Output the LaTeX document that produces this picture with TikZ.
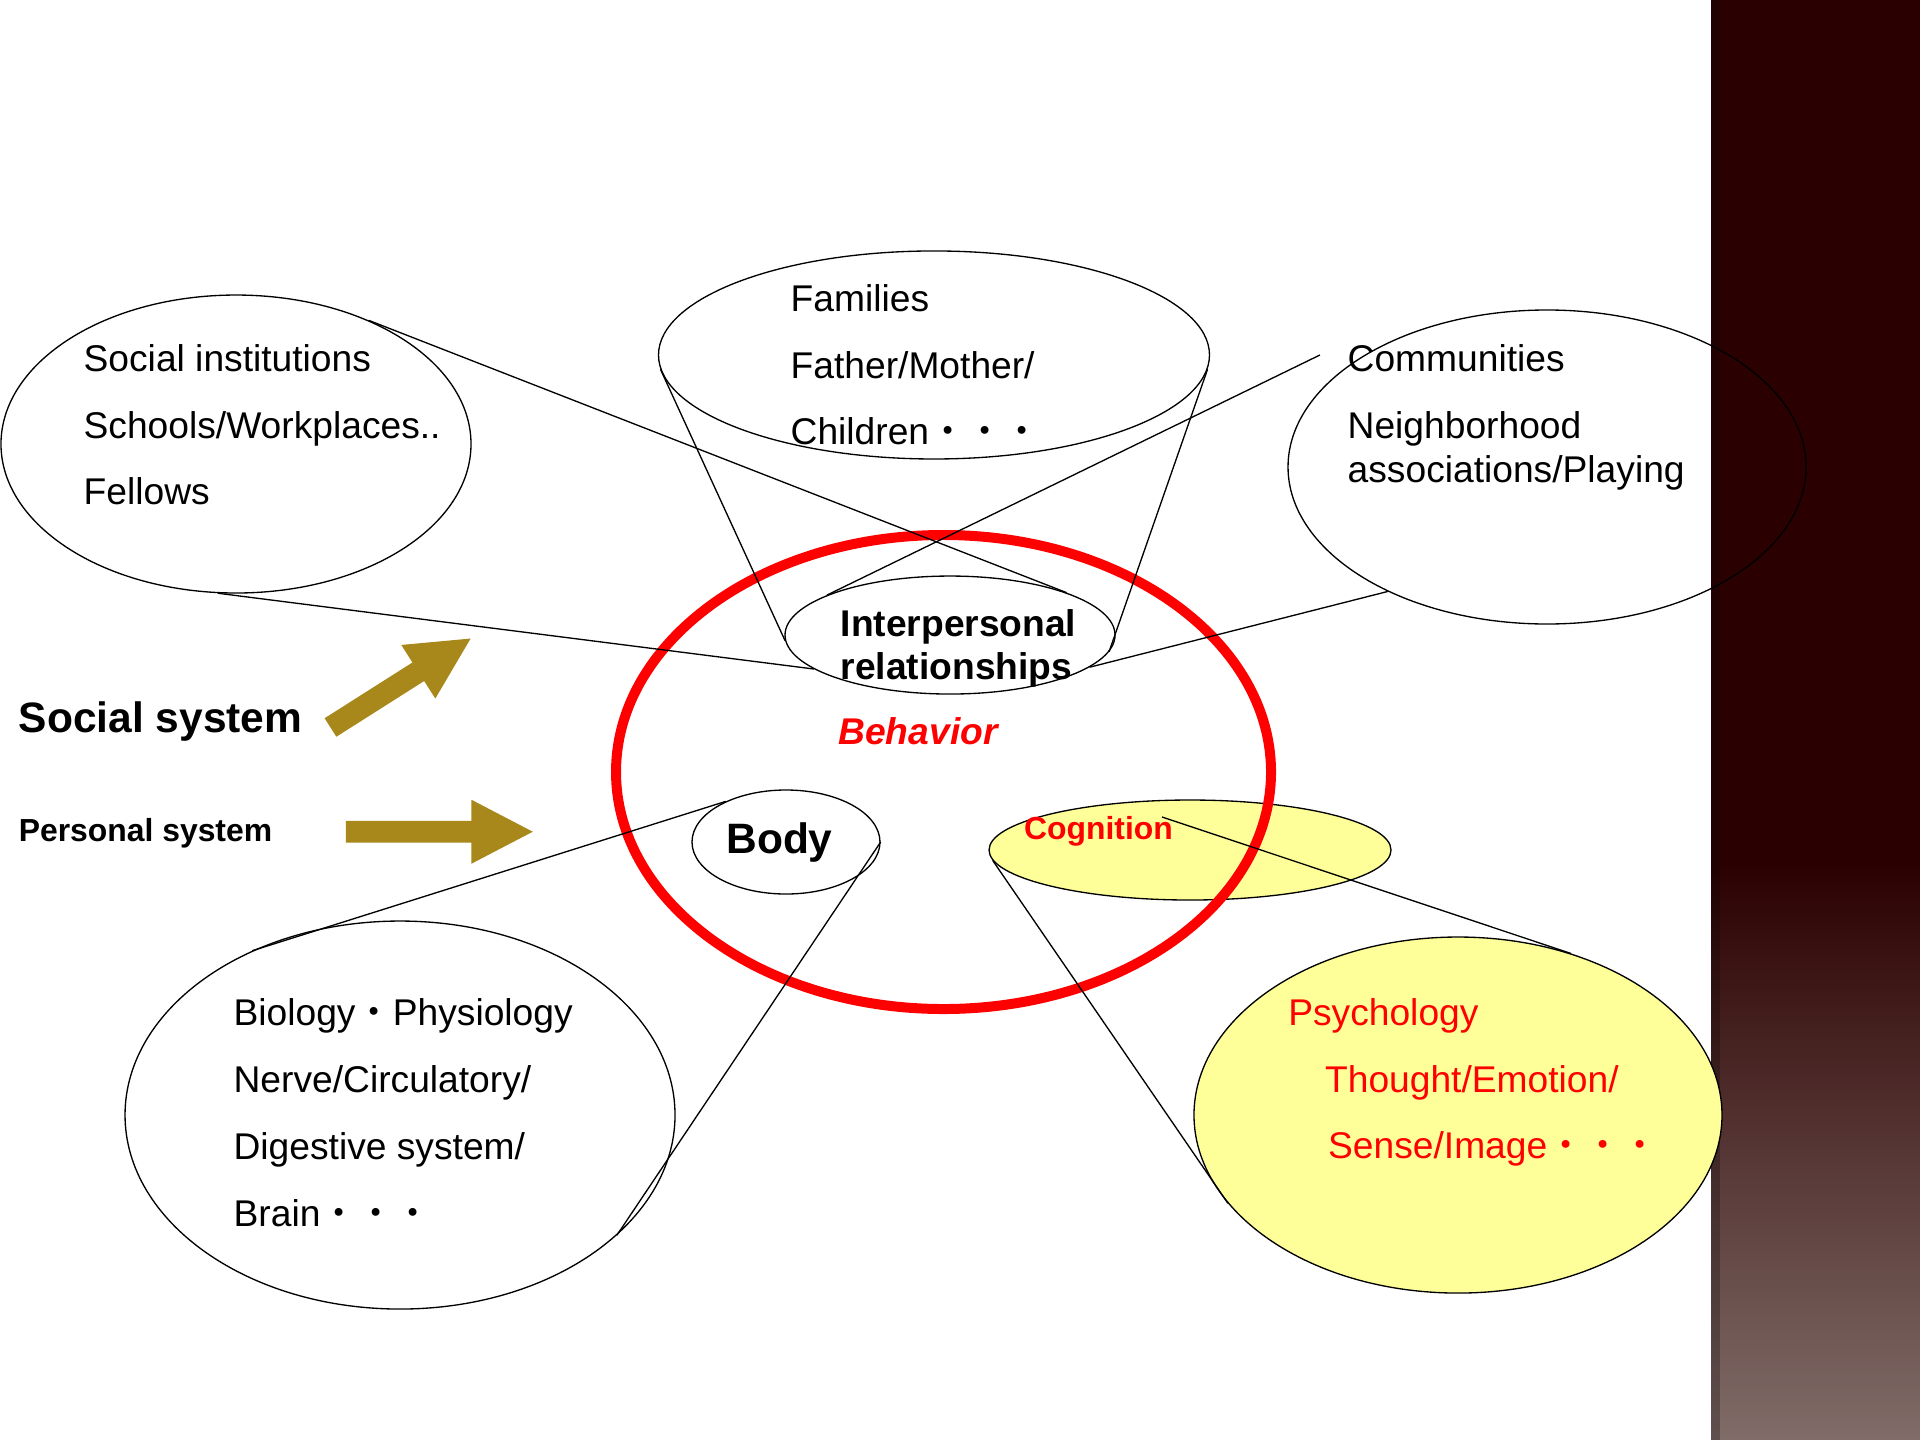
\documentclass[tikz,border=0pt]{standalone}
\usepackage{fontspec}
\setmainfont{Liberation Sans}
\newfontfamily\cjk{Noto Sans CJK JP}
\usetikzlibrary{positioning,shapes.geometric}
\definecolor{behaviorred}{RGB}{255,0,0}
\definecolor{cogyellow}{RGB}{255,255,153}
\definecolor{arrowgold}{RGB}{168,136,26}
\definecolor{stripdark}{RGB}{43,0,0}
\definecolor{stripbottom}{RGB}{128,108,104}

\begin{document}
\begin{tikzpicture}[line width=0.5pt,
    blob/.style 2 args={ellipse, draw, inner sep=0pt, minimum width=#1, minimum height=#2},
    list/.style={anchor=west, align=left, inner sep=0pt, font=\fontsize{14}{25}\selectfont},
    heading/.style={inner sep=0pt, font=\bfseries\fontsize{#1}{#1}\selectfont},
    line/.style={draw=black, line width=0.5pt},
    goldarrow/.style={fill=arrowgold}]
\useasboundingbox (0,0) rectangle (25.4,-19.05);
\fill[white] (0,0) rectangle (25.4,-19.05);
% dark band on the right
\fill[stripdark] (22.635,0) rectangle (25.4,-11.38);
\shade[top color=stripdark, bottom color=stripbottom] (22.635,-11.38) rectangle (25.4,-19.05);
\fill[black, opacity=0.25] (22.635,0) rectangle (22.76,-19.05);

% ellipses
\node[blob={6.218cm}{3.942cm}] (social) at (3.122,-5.874) {};
\node[blob={7.289cm}{2.752cm}] (family) at (12.356,-4.696) {};
\node[blob={6.853cm}{4.154cm}] (community) at (20.466,-6.178) {};
\node[blob={4.366cm}{1.561cm}] (inter) at (12.568,-8.401) {};
\node[blob={2.487cm}{1.376cm}] (body) at (10.398,-11.139) {};
\node[blob={7.276cm}{5.133cm}] (biology) at (5.292,-14.751) {};
\node[blob={5.318cm}{1.323cm}, fill=cogyellow] (cognition) at (15.743,-11.245) {};
\node[blob={6.985cm}{4.710cm}, fill=cogyellow] (psychology) at (19.288,-14.751) {};
\node[blob={8.665cm}{6.271cm}, draw=behaviorred, line width=3.76pt] (behavior) at (12.482,-10.213) {};

% callout lines
\coordinate (commtail) at (17.462,-4.696);
\coordinate (cogtail) at (15.372,-10.808);
\path[line] (social.43) -- (inter.20);
\path[line] (social.263) -- (inter.194);
\path[line] (family.183) -- (inter.182);
\path[line] (family.357) -- (inter.354);
\path[line] (commtail) -- (inter.162);
\path[line] (community.218) -- (inter.347);
\path[line] (body.146) -- (biology.132);
\path[line] (body.east) -- (biology.331);
\path[line] (cognition.183) -- (psychology.201);
\path[line] (cogtail) -- (psychology.55);

% texts
\node[list] (socialtext) at (1.098,-5.620) {Social institutions\\Schools/Workplaces..\\Fellows};
\node[list] (familytext) at (10.451,-4.827) {Families\\Father/Mother/\\Children{\cjk ・・・}};
\node[list] (commtext) at (17.820,-4.736) {Communities};
\node[list, font=\fontsize{14}{16.9}\selectfont] (neightext) at (17.820,-5.965) {Neighborhood\\associations/Playing};
\node[heading=14, anchor=west, align=left, font=\bfseries\fontsize{14}{16.3}\selectfont] (intertext) at (11.113,-8.582) {Interpersonal\\relationships};
\node[heading=14, text=behaviorred, font=\bfseries\itshape\fontsize{14}{14}\selectfont] (behaviortext) at (12.144,-9.671) {Behavior};
\node[heading=16] (bodytext) at (10.312,-11.152) {Body};
\node[heading=12, text=behaviorred] (cogtext) at (14.532,-11.000) {Cognition};
\node[list, font=\fontsize{14}{25.2}\selectfont] (biotext) at (3.082,-14.718) {Biology{\cjk ・}Physiology\\Nerve/Circulatory/\\Digestive system/\\Brain{\cjk ・・・}};
\node[list, text=behaviorred] (psytext) at (17.034,-13.434) {Psychology};
\node[list, text=behaviorred] (thoughttext) at (17.521,-14.33) {Thought/Emotion/};
\node[list, text=behaviorred] (sensetext) at (17.561,-15.194) {Sense/Image{\cjk ・・・}};
\node[heading=16, anchor=west] (socsys) at (0.24,-9.545) {Social system};
\node[heading=12, anchor=west] (perssys) at (0.24,-11.020) {Personal system};

% block arrows
\fill[goldarrow, shift={(4.372,-9.624)}, rotate=32.4] (0,0.145) -- (1.376,0.145) -- (1.376,0.420) -- (2.196,0) -- (1.376,-0.420) -- (1.376,-0.145) -- (0,-0.145) -- cycle;
\fill[goldarrow, shift={(4.577,-11.003)}] (0,0.144) -- (1.660,0.144) -- (1.660,0.423) -- (2.471,0) -- (1.660,-0.423) -- (1.660,-0.144) -- (0,-0.144) -- cycle;
\end{tikzpicture}
\end{document}
